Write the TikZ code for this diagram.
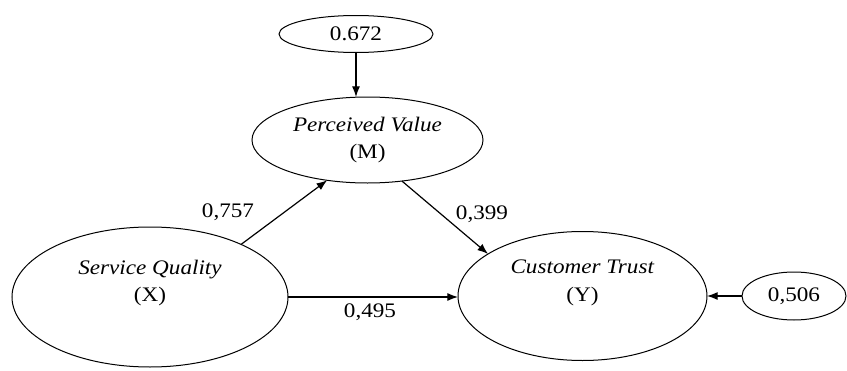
\documentclass[tikz,border=0pt]{standalone}
\usepackage{fontspec}
\setmainfont{Liberation Serif}[FakeStretch=1.12]
\usetikzlibrary{shapes.geometric,arrows.meta}

\tikzset{every picture/.style={line width=0.75pt}}
\tikzset{
	latent/.style={draw, ellipse, inner sep=0pt, outer sep=0pt, align=center},
	arr/.style={-{Latex[length=8pt,width=6pt]}, line width=0.9pt},
	coef/.style={inner sep=1pt}
}

\begin{document}
\begin{tikzpicture}[x=0.75pt,y=0.75pt,yscale=-1,xscale=1,font=\fontsize{15.5}{20.5}\selectfont]
	\useasboundingbox (0,0) rectangle (847,371);

	% Latent variables
	\node[latent, minimum width=115.5pt, minimum height=27.75pt] (top) at (356,34) {0.672};
	\node[latent, minimum width=173.25pt, minimum height=64.5pt] (pv) at (367.5,140) {\textit{Perceived Value}\\(M)};
	\node[latent, minimum width=207pt, minimum height=105pt] (sq) at (150,297) {};
	\node[latent, minimum width=186.75pt, minimum height=96.75pt] (ct) at (582.5,296) {};
	\node[latent, minimum width=78pt, minimum height=36pt] (err) at (794,296) {0,506};

	% Text Node
	\node[align=center] (sqlbl) at (150,283) {\textit{Service Quality}\\(X)};
	\node[align=center] (ctlbl) at (582.5,283) {\textit{Customer Trust}\\(Y)};

	% Paths
	\draw[arr] (top.south) -- (top.south |- pv.north);
	\draw[arr] (sq.30) -- (pv.225);
	\draw[arr] (pv.310) -- (ct.156);
	\draw[arr] (sq.east) -- (sq.east -| ct.west);
	\draw[arr] (err.west) -- (ct.east);

	% Coefficients
	\node[coef] (c1) at (228,212) {0,757};
	\node[coef] (c2) at (482,214) {0,399};
	\node[coef] (c3) at (370,312) {0,495};

\end{tikzpicture}
\end{document}
